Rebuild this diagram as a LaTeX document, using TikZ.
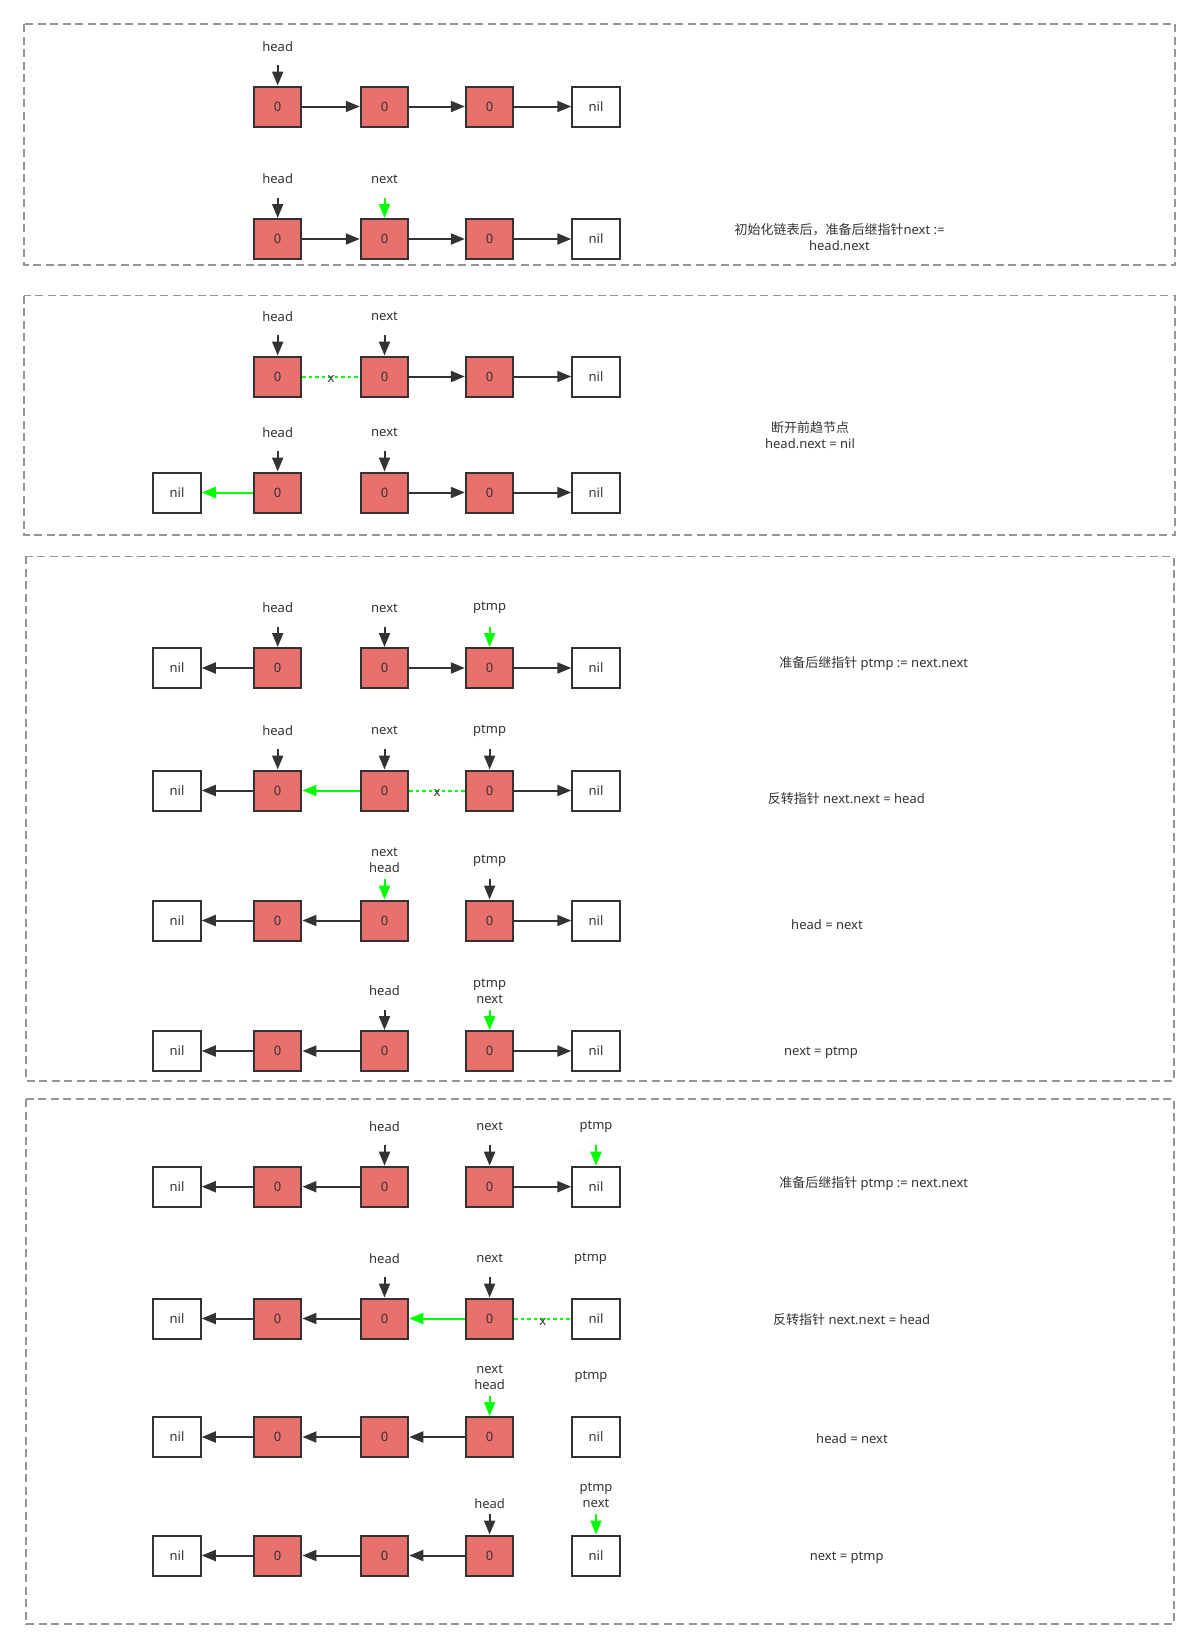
\documentclass[tikz,border=0pt]{standalone}
\usepackage{fontspec}
\setmainfont{Noto Sans}
\newfontfamily\cjk{Noto Sans CJK SC}
\usetikzlibrary{arrows.meta}
\definecolor{boxred}{HTML}{E8716E}
\definecolor{ink}{HTML}{333333}
\definecolor{grn}{HTML}{00FF00}
\definecolor{frame}{HTML}{959595}
\newcommand{\mkred}[3]{\node[redbox] (#1) at (#2,#3) {0};}
\newcommand{\mknil}[3]{\node[nilbox] (#1) at (#2,#3) {nil};}
\newcommand{\mkptr}[4]{%
  \node[lbl] (#4t) at ([yshift=60pt]#1.center) {#2};
  \coordinate (#4s) at ([yshift=41.5pt]#1.center);
  \draw[#3] (#4s) -- (#1);}
\newcommand{\mkcut}[3]{%
  \draw[cut] (#1) -- (#2) node[lbl, midway, yshift=-3pt] (#3) {x};}
\def\xL{177}
\def\xA{277.7}
\def\xB{384.5}
\def\xC{489.6}
\def\xD{596}
\begin{document}
\begin{tikzpicture}[x=1pt,y=-1pt,
  every node/.style={font=\fontsize{13}{15.6}\selectfont, text=ink},
  redbox/.style={draw=ink, line width=2pt, fill=boxred, minimum width=47.5pt, minimum height=40pt, inner sep=0pt},
  nilbox/.style={redbox, fill=white},
  lbl/.style={align=center, inner sep=0pt},
  link/.style={draw=ink, line width=2pt, -{Triangle[length=14pt,width=11pt]}},
  glink/.style={link, draw=grn},
  cut/.style={draw=grn, line width=2pt, dash pattern=on 3.5pt off 3pt},
  panel/.style={draw=frame, line width=1.8pt, dash pattern=on 8pt off 4.5pt}
]
\useasboundingbox (0,0) rectangle (1200,1649);
% panels
\draw[panel] (24,24) rectangle (1175,265);
\draw[panel] (24,295.5) rectangle (1175,535.3);
\draw[panel] (26.3,556.4) rectangle (1173.7,1081);
\draw[panel] (26.3,1099) rectangle (1173.7,1624);

% ---- row 1
\mkred{a1}{\xA}{106.5} \mkred{b1}{\xB}{106.5} \mkred{c1}{\xC}{106.5} \mknil{d1}{\xD}{106.5}
\draw[link] (a1) -- (b1); \draw[link] (b1) -- (c1); \draw[link] (c1) -- (d1);
\mkptr{a1}{head}{link}{h1}

% ---- row 2
\mkred{a2}{\xA}{239} \mkred{b2}{\xB}{239} \mkred{c2}{\xC}{239} \mknil{d2}{\xD}{239}
\draw[link] (a2) -- (b2); \draw[link] (b2) -- (c2); \draw[link] (c2) -- (d2);
\mkptr{a2}{head}{link}{h2}
\mkptr{b2}{next}{glink}{n2}
\node[lbl] (t1) at (839.5,237) {{\cjk 初始化链表后，准备后继指针}next :=\\head.next};

% ---- row 3
\mkred{a3}{\xA}{376.5} \mkred{b3}{\xB}{376.5} \mkred{c3}{\xC}{376.5} \mknil{d3}{\xD}{376.5}
\mkcut{a3}{b3}{x3}
\draw[link] (b3) -- (c3); \draw[link] (c3) -- (d3);
\mkptr{a3}{head}{link}{h3}
\mkptr{b3}{next}{link}{n3}

% ---- row 4
\mknil{l4}{\xL}{492.5} \mkred{a4}{\xA}{492.5} \mkred{b4}{\xB}{492.5} \mkred{c4}{\xC}{492.5} \mknil{d4}{\xD}{492.5}
\draw[glink] (a4) -- (l4); \draw[link] (b4) -- (c4); \draw[link] (c4) -- (d4);
\mkptr{a4}{head}{link}{h4}
\mkptr{b4}{next}{link}{n4}
\node[lbl] (t2) at (810,435) {{\cjk 断开前趋节点}\\head.next = nil};

% ---- row 5
\mknil{l5}{\xL}{668} \mkred{a5}{\xA}{668} \mkred{b5}{\xB}{668} \mkred{c5}{\xC}{668} \mknil{d5}{\xD}{668}
\draw[link] (a5) -- (l5); \draw[link] (b5) -- (c5); \draw[link] (c5) -- (d5);
\mkptr{a5}{head}{link}{h5}
\mkptr{b5}{next}{link}{n5}
\mkptr{c5}{ptmp}{glink}{p5}
\node[lbl] (t3) at (873.7,663.3) {{\cjk 准备后继指针} ptmp := next.next};

% ---- row 6
\mknil{l6}{\xL}{790.5} \mkred{a6}{\xA}{790.5} \mkred{b6}{\xB}{790.5} \mkred{c6}{\xC}{790.5} \mknil{d6}{\xD}{790.5}
\draw[link] (a6) -- (l6); \draw[glink] (b6) -- (a6); \mkcut{b6}{c6}{x6} \draw[link] (c6) -- (d6);
\mkptr{a6}{head}{link}{h6}
\mkptr{b6}{next}{link}{n6}
\mkptr{c6}{ptmp}{link}{p6}
\node[lbl] (t4) at (846.3,798.3) {{\cjk 反转指针} next.next = head};

% ---- row 7
\mknil{l7}{\xL}{920.5} \mkred{a7}{\xA}{920.5} \mkred{b7}{\xB}{920.5} \mkred{c7}{\xC}{920.5} \mknil{d7}{\xD}{920.5}
\draw[link] (a7) -- (l7); \draw[link] (b7) -- (a7); \draw[link] (c7) -- (d7);
\mkptr{b7}{next\\head}{glink}{n7}
\mkptr{c7}{ptmp}{link}{p7}
\node[lbl] (t5) at (827,925) {head = next};

% ---- row 8
\mknil{l8}{\xL}{1051} \mkred{a8}{\xA}{1051} \mkred{b8}{\xB}{1051} \mkred{c8}{\xC}{1051} \mknil{d8}{\xD}{1051}
\draw[link] (a8) -- (l8); \draw[link] (b8) -- (a8); \draw[link] (c8) -- (d8);
\mkptr{b8}{head}{link}{h8}
\mkptr{c8}{ptmp\\next}{glink}{p8}
\node[lbl] (t6) at (821,1053) {next = ptmp};

% ---- row 9
\mknil{l9}{\xL}{1186.7} \mkred{a9}{\xA}{1186.7} \mkred{b9}{\xB}{1186.7} \mkred{c9}{\xC}{1186.7} \mknil{d9}{\xD}{1186.7}
\draw[link] (a9) -- (l9); \draw[link] (b9) -- (a9); \draw[link] (c9) -- (d9);
\mkptr{b9}{head}{link}{h9}
\mkptr{c9}{next}{link}{n9}
\mkptr{d9}{ptmp}{glink}{p9}
\node[lbl] (t7) at (873.7,1183.3) {{\cjk 准备后继指针} ptmp := next.next};

% ---- row 10
\mknil{l10}{\xL}{1318.5} \mkred{a10}{\xA}{1318.5} \mkred{b10}{\xB}{1318.5} \mkred{c10}{\xC}{1318.5} \mknil{d10}{\xD}{1318.5}
\draw[link] (a10) -- (l10); \draw[link] (b10) -- (a10); \draw[glink] (c10) -- (b10); \mkcut{c10}{d10}{x10}
\mkptr{b10}{head}{link}{h10}
\mkptr{c10}{next}{link}{n10}
\node[lbl] (p10t) at ([xshift=-5.5pt,yshift=60pt]d10.center) {ptmp};
\node[lbl] (t8) at (851.7,1320) {{\cjk 反转指针} next.next = head};

% ---- row 11
\mknil{l11}{\xL}{1437} \mkred{a11}{\xA}{1437} \mkred{b11}{\xB}{1437} \mkred{c11}{\xC}{1437} \mknil{d11}{\xD}{1437}
\draw[link] (a11) -- (l11); \draw[link] (b11) -- (a11); \draw[link] (c11) -- (b11);
\mkptr{c11}{next\\head}{glink}{n11}
\node[lbl] (p11t) at ([xshift=-5pt,yshift=60pt]d11.center) {ptmp};
\node[lbl] (t9) at (852,1438.5) {head = next};

% ---- row 12
\mknil{l12}{\xL}{1555.5} \mkred{a12}{\xA}{1555.5} \mkred{b12}{\xB}{1555.5} \mkred{c12}{\xC}{1555.5} \mknil{d12}{\xD}{1555.5}
\draw[link] (a12) -- (l12); \draw[link] (b12) -- (a12); \draw[link] (c12) -- (b12);
\node[lbl] (h12t) at ([yshift=52pt]c12.center) {head};
\coordinate (h12s) at ([yshift=41.5pt]c12.center);
\draw[link] (h12s) -- (c12);
\mkptr{d12}{ptmp\\next}{glink}{p12}
\node[lbl] (t10) at (846.7,1557.7) {next = ptmp};
\end{tikzpicture}
\end{document}
